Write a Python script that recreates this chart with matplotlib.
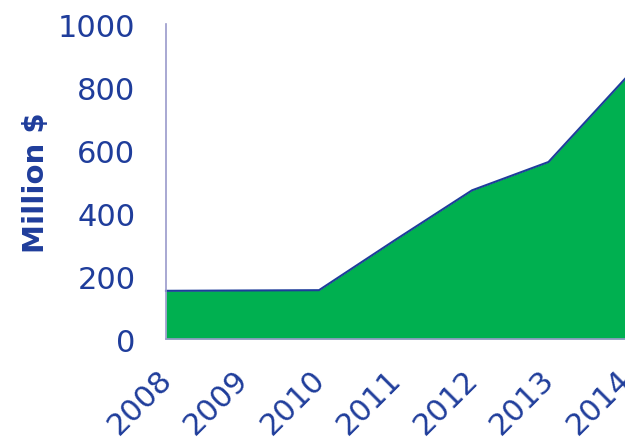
import matplotlib.pyplot as plt
import matplotlib.transforms as mtransforms

# Data
years = ["2008", "2009", "2010", "2011", "2012", "2013", "2014"]
values = [153, 154, 155, 315, 472, 562, 826]

text_col = "#1F3D9B"
fill_col = "#00B050"
spine_col = "#9A9ACB"

fig = plt.figure(figsize=(6.25, 4.39), dpi=100)
ax = fig.add_axes([0.2656, 0.2255, 0.7344, 0.7175])

x = list(range(len(years)))
ax.fill_between(x, values, 0, color=fill_col, lw=0)
ax.plot(x, values, color=text_col, lw=1.5, clip_on=False)

ax.set_xlim(0, len(years) - 1)
ax.set_ylim(0, 1000)
ax.set_yticks(range(0, 1001, 200))
ax.set_xticks(x)
ax.set_xticklabels(years, rotation=45, ha="right", rotation_mode="anchor")

for s in ["top", "right"]:
    ax.spines[s].set_visible(False)
for s in ["left", "bottom"]:
    ax.spines[s].set_color(spine_col)
    ax.spines[s].set_linewidth(1.2)

ax.tick_params(axis="both", length=0, colors=text_col, labelsize=22)
ax.tick_params(axis="y", pad=22)
ax.tick_params(axis="x", pad=14)
ax.set_ylabel("Million $", color=text_col, fontsize=21, fontweight="bold", labelpad=6)

# nudge the rotated year labels a little left and down
shift = mtransforms.ScaledTranslation(-9 / 100, -5 / 100, fig.dpi_scale_trans)
for lab in ax.get_xticklabels():
    lab.set_transform(lab.get_transform() + shift)

fig.savefig("out.png", dpi=100)
